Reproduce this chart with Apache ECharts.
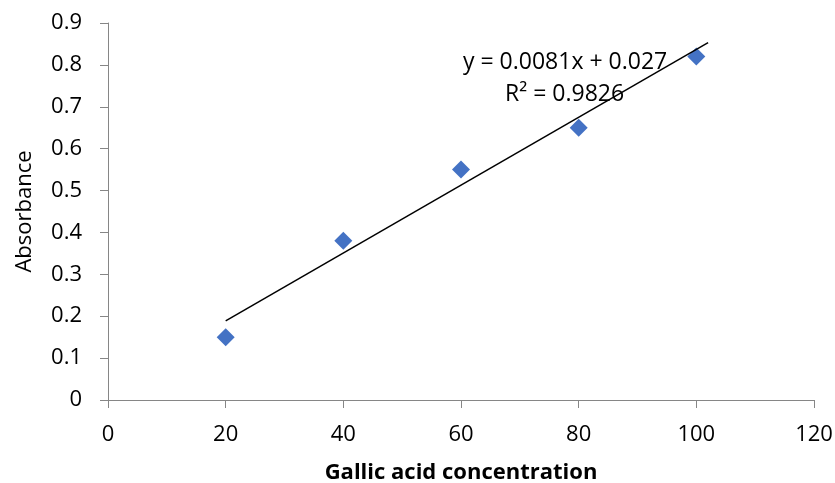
<!DOCTYPE html>
<html><head><meta charset="utf-8">
<script src="https://cdn.jsdelivr.net/npm/echarts@6/dist/echarts.min.js"></script>
<style>html,body{margin:0;padding:0;background:#fff}#c{width:835px;height:483px}</style>
</head><body><div id="c"></div>
<script>
const concentrations = [20, 40, 60, 80, 100];
const absorbance = [0.15, 0.38, 0.55, 0.65, 0.82];
const trendSlope = 0.0081;
const trendIntercept = 0.027;
const trendRange = [20, 102];
const equationText = 'y = 0.0081x + 0.027';
const r2Text = 'R² = 0.9826';
const xTitle = 'Gallic acid concentration';
const yTitle = 'Absorbance';

const FONT = 'Open Sans';
const chart = echarts.init(document.getElementById('c'));
const trendData = trendRange.map(x => [x, trendSlope * x + trendIntercept]);
chart.setOption({
  animation: false,
  grid: {left: 108, right: 21, top: 23, bottom: 83, containLabel: false, outerBoundsMode: 'none'},
  xAxis: {
    type: 'value', min: 0, max: 120, interval: 20,
    name: xTitle, nameLocation: 'middle', nameGap: 62,
    nameTextStyle: {fontFamily: FONT, fontSize: 22, fontWeight: 'bold', color: '#000'},
    axisLine: {show: true, lineStyle: {color: '#868686', width: 1}},
    axisTick: {show: true, length: 8, lineStyle: {color: '#868686'}},
    axisLabel: {margin: 24, fontFamily: FONT, fontSize: 22, color: '#000'},
    splitLine: {show: false}
  },
  yAxis: {
    type: 'value', min: 0, max: 0.9, interval: 0.1,
    name: yTitle, nameLocation: 'middle', nameGap: 72,
    nameTextStyle: {fontFamily: FONT, fontSize: 22, color: '#000'},
    axisLine: {show: true, lineStyle: {color: '#868686', width: 1}},
    axisTick: {show: true, length: 8, lineStyle: {color: '#868686'}},
    axisLabel: {margin: 26, fontFamily: FONT, fontSize: 22, color: '#000',
      formatter: v => (Math.round(v * 10) / 10).toString()},
    splitLine: {show: false}
  },
  series: [
    {type: 'line', data: trendData, symbol: 'none', z: 3,
      lineStyle: {color: '#000', width: 1.5}},
    {type: 'scatter', data: concentrations.map((x, i) => [x, absorbance[i]]),
      symbol: 'diamond', symbolSize: 18, z: 2,
      itemStyle: {color: '#4472C4', opacity: 1}}
  ],
  graphic: [
    {type: 'text', left: 463, top: 51, style: {text: equationText, fontFamily: FONT, fontSize: 23, fill: '#000'}},
    {type: 'text', left: 505, top: 83, style: {text: r2Text, fontFamily: FONT, fontSize: 23, fill: '#000'}}
  ]
});
</script></body></html>
